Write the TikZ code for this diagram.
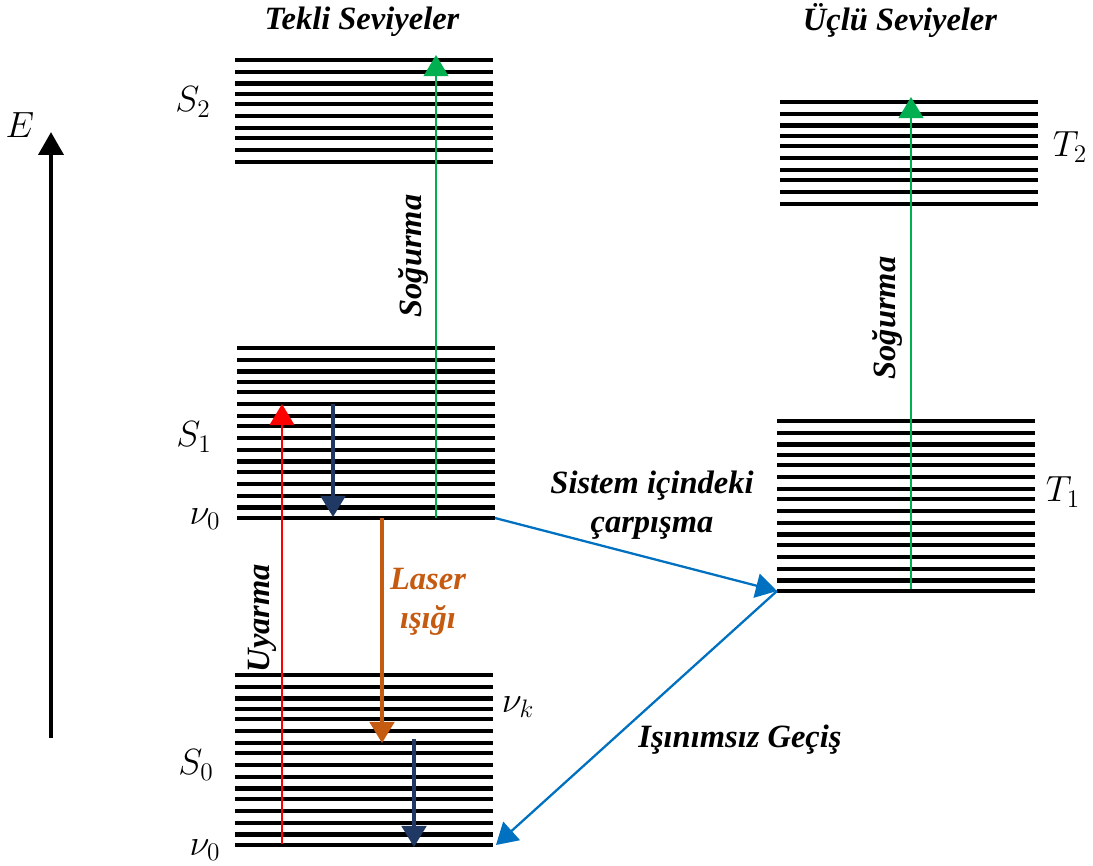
\documentclass[tikz,border=0pt]{standalone}
\usepackage{fontspec}
\setmainfont{Liberation Serif}
\usetikzlibrary{arrows.meta}

\definecolor{yesil}{RGB}{0,176,80}
\definecolor{lacivert}{RGB}{31,56,100}
\definecolor{turuncu}{RGB}{197,90,17}
\definecolor{mavi}{RGB}{0,112,192}

% titresim seviyeleri: x, ust cizginin y'si, cizgi sayisi
\newcommand{\seviye}[3]{%
  \foreach \d [count=\i] in {0,11.7,23.5,34,44,56,68,78,90,101.7,113.5,124,135.7,147.7,159.5,170}{%
    \ifnum\i>#3\relax\else\draw[level] (#1,#2+\d) -- ++(258,0);\fi}}

\begin{document}
\begin{tikzpicture}[x=0.02cm,y=-0.02cm,
    level/.style={line width=2.3pt},
    baslik/.style={font=\fontsize{18.5}{22}\selectfont\bfseries\itshape},
    sym/.style={font=\fontsize{20}{24}\selectfont},
    gecis/.style={-{Triangle[width=14pt,length=12pt]},line width=1.3pt}]
  \useasboundingbox (0,0) rectangle (1093,866);

  % seviyeler
  \seviye{235}{60}{10}   % S2
  \seviye{237}{348}{16}  % S1
  \seviye{235}{675}{16}  % S0
  \seviye{780}{102}{10}  % T2
  \seviye{777}{421}{16}  % T1

  % enerji ekseni
  \coordinate (ealt) at (51,738);
  \coordinate (eust) at (51,132);
  \draw[-{Triangle[width=14pt,length=13pt]},line width=2.6pt] (ealt) -- (eust);
  \node[sym] (e) at (20,125) {$E$};

  % basliklar
  \node[baslik] (tekli) at (362,22) {Tekli Seviyeler};
  \node[baslik] (uclu) at (900,20) {Üçlü Seviyeler};

  % seviye etiketleri
  \node[sym] (s2) at (193,102) {$S_2$};
  \node[sym] (s1) at (194,437) {$S_1$};
  \node[sym] (v0a) at (205,519) {$\nu_0$};
  \node[sym] (s0) at (196,765) {$S_0$};
  \node[sym] (v0b) at (205,850) {$\nu_0$};
  \node[sym] (vk) at (518,707) {$\nu_k$};
  \node[sym] (t2) at (1070,147) {$T_2$};
  \node[sym] (t1) at (1063,492) {$T_1$};

  % gecis noktalari
  \coordinate (s1v0) at (495,518);
  \coordinate (t1v0) at (777,591);
  \coordinate (s0v0) at (496,845);

  % sogurma
  \coordinate (sa) at (436,518);
  \coordinate (sb) at (436,55);
  \draw[gecis,yesil] (sa) -- (sb);
  \node[baslik,rotate=90] (sog1) at (414,256) {Soğurma};
  \coordinate (ta) at (911,589);
  \coordinate (tb) at (911,97);
  \draw[gecis,yesil] (ta) -- (tb);
  \node[baslik,rotate=90] (sog2) at (888,318) {Soğurma};

  % uyarma
  \coordinate (ua) at (282,844);
  \coordinate (ub) at (282,404);
  \draw[gecis,red] (ua) -- (ub);
  \node[baslik,rotate=90] (uyarma) at (262,618) {Uyarma};

  % S1 icinde durulma
  \coordinate (da) at (333,404);
  \coordinate (db) at (333,517);
  \draw[gecis,lacivert,line width=1.8pt] (da) -- (db);

  % laser isigi
  \coordinate (la) at (382,518);
  \coordinate (lb) at (382,743);
  \draw[gecis,turuncu,line width=1.8pt] (la) -- (lb);
  \node[baslik,text=turuncu,align=center] (laser) at (428,602) {Laser\\ışığı};

  % S0 icinde durulma
  \coordinate (ka) at (414,739);
  \coordinate (kb) at (414,847);
  \draw[gecis,lacivert,line width=1.8pt] (ka) -- (kb);

  % sistemler arasi ve isinimsiz gecis
  \draw[gecis,mavi] (s1v0) -- (t1v0);
  \draw[gecis,mavi] (t1v0) -- (s0v0);
  \node[baslik,align=center] (sistem) at (652,505) {Sistem içindeki\\çarpışma};
  \node[baslik] (isinimsiz) at (740,740) {Işınımsız Geçiş};
\end{tikzpicture}
\end{document}
